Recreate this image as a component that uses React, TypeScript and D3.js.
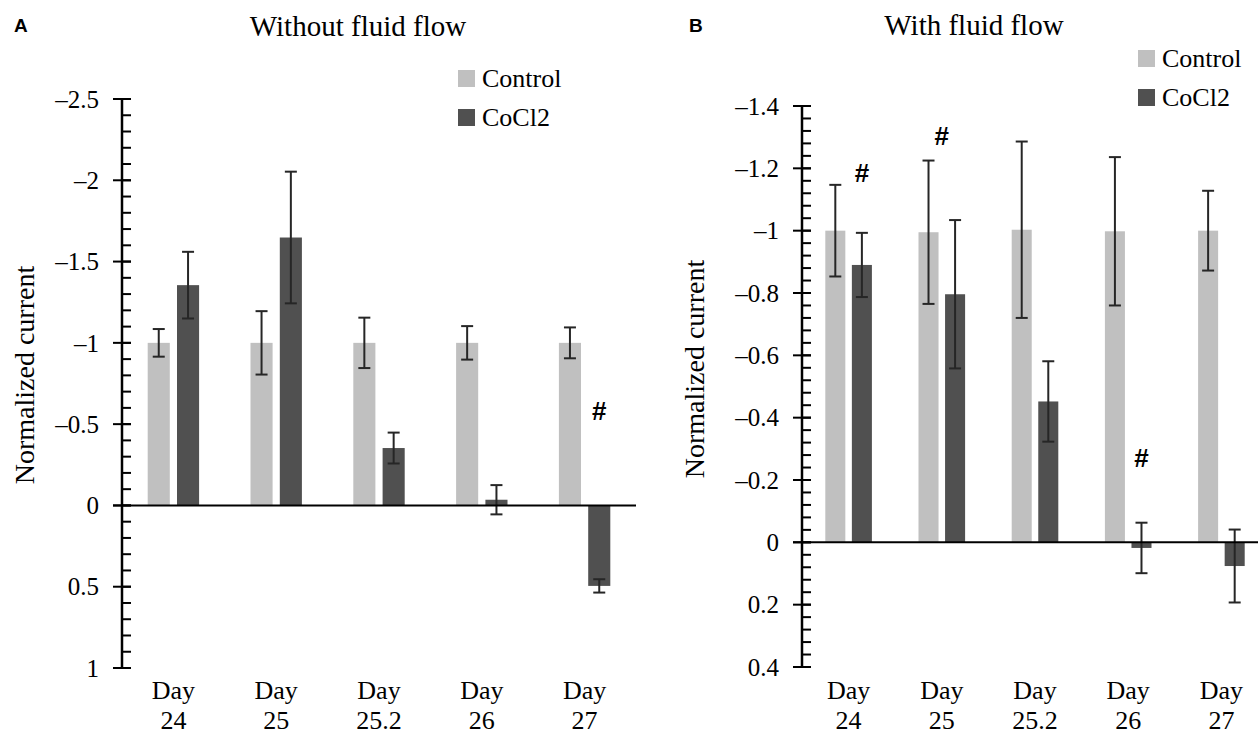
import { useEffect, useRef } from 'react';
import * as d3 from 'd3';

// categories (two-line labels: "Day" / number)
const days = ['24', '25', '25.2', '26', '27'];
const seriesNames = ['Control', 'CoCl2'];
const seriesColors = ['#c0c0c0', '#505050'];

// panel A - without fluid flow
const controlA = [-1.0, -1.0, -1.0, -1.0, -1.0];
const controlErrA = [0.085, 0.195, 0.155, 0.103, 0.095];
const cocl2A = [-1.355, -1.648, -0.353, -0.035, 0.495];
const cocl2ErrA = [0.205, 0.405, 0.095, 0.09, 0.041];
const ticksA = [-2.5, -2, -1.5, -1, -0.5, 0, 0.5, 1];

// panel B - with fluid flow
const controlB = [-1.0, -0.995, -1.003, -0.998, -1.0];
const controlErrB = [0.147, 0.23, 0.283, 0.238, 0.128];
const cocl2B = [-0.89, -0.796, -0.452, 0.018, 0.076];
const cocl2ErrB = [0.103, 0.238, 0.129, 0.081, 0.117];
const ticksB = [-1.4, -1.2, -1, -0.8, -0.6, -0.4, -0.2, 0, 0.2, 0.4];

// significance marks (#), value = baseline position in data units
const hashA = [{ day: '27', value: -0.523, at: 'CoCl2' }];
const hashB = [
  { day: '24', value: -1.157, at: 'CoCl2' },
  { day: '25', value: -1.274, at: 'group' },
  { day: '26', value: -0.241, at: 'CoCl2' },
];

const serif = '"Liberation Serif", "Times New Roman", serif';
const sans = '"Liberation Sans", Arial, sans-serif';

type Panel = {
  letter: string;
  letterX: number;
  title: string;
  titleX: number;
  titleY: number;
  xRange: [number, number];
  yDomain: [number, number];
  yRange: [number, number];
  minorStep: number;
  zeroEnd: number;
  labelX: number;
  labelY: number;
  legendX: number;
  legendY: number;
  control: number[];
  controlErr: number[];
  cocl2: number[];
  cocl2Err: number[];
  ticks: number[];
  hashes: { day: string; value: number; at: string }[];
};

const fmt = (v: number) => (v < 0 ? '\u2013' + String(Math.abs(v)) : String(v));

function drawPanel(svg: d3.Selection<SVGSVGElement, unknown, null, undefined>, p: Panel) {
  const g = svg.append('g');
  const x0 = d3.scaleBand<string>().domain(days).range(p.xRange).padding(0);
  const bw = x0.bandwidth();
  const x1 = d3.scaleBand<string>().domain(seriesNames).range([0.25 * bw, 0.75 * bw]).paddingInner(0.246);
  const y = d3.scaleLinear().domain(p.yDomain).range(p.yRange);
  const axisX = p.xRange[0];

  // bars
  const rows = days.map((d, i) => [
    { day: d, s: 'Control', v: p.control[i], e: p.controlErr[i], c: seriesColors[0] },
    { day: d, s: 'CoCl2', v: p.cocl2[i], e: p.cocl2Err[i], c: seriesColors[1] },
  ]).flat();

  g.selectAll('.bar')
    .data(rows)
    .enter()
    .append('rect')
    .attr('x', d => (x0(d.day) || 0) + (x1(d.s) || 0))
    .attr('width', x1.bandwidth())
    .attr('y', d => Math.min(y(d.v), y(0)))
    .attr('height', d => Math.abs(y(d.v) - y(0)))
    .attr('fill', d => d.c);

  // error bars
  const cap = 6;
  rows.forEach(d => {
    const cx = (x0(d.day) || 0) + (x1(d.s) || 0) + x1.bandwidth() / 2;
    const y1 = y(d.v - d.e);
    const y2 = y(d.v + d.e);
    const eg = g.append('g').attr('stroke', '#262626').attr('stroke-width', 2);
    eg.append('line').attr('x1', cx).attr('x2', cx).attr('y1', y1).attr('y2', y2);
    eg.append('line').attr('x1', cx - cap).attr('x2', cx + cap).attr('y1', y1).attr('y2', y1);
    eg.append('line').attr('x1', cx - cap).attr('x2', cx + cap).attr('y1', y2).attr('y2', y2);
  });

  // y axis
  g.append('line')
    .attr('x1', axisX).attr('x2', axisX)
    .attr('y1', y(p.yDomain[0])).attr('y2', y(p.yDomain[1]))
    .attr('stroke', '#000').attr('stroke-width', 2.5);

  const nMinor = Math.round((p.yDomain[1] - p.yDomain[0]) / p.minorStep);
  const minor = d3.range(0, nMinor + 1).map(i => p.yDomain[0] + i * p.minorStep);
  g.selectAll('.minor')
    .data(minor)
    .enter()
    .append('line')
    .attr('x1', axisX).attr('x2', axisX + 9)
    .attr('y1', d => y(d)).attr('y2', d => y(d))
    .attr('stroke', '#000').attr('stroke-width', 2);

  g.selectAll('.major')
    .data(p.ticks)
    .enter()
    .append('line')
    .attr('x1', axisX - 9).attr('x2', axisX + 9)
    .attr('y1', d => y(d)).attr('y2', d => y(d))
    .attr('stroke', '#000').attr('stroke-width', 2);

  g.selectAll('.tick-label')
    .data(p.ticks)
    .enter()
    .append('text')
    .attr('x', axisX - 23)
    .attr('y', d => y(d))
    .attr('dy', '0.35em')
    .attr('text-anchor', 'end')
    .style('font-family', serif)
    .style('font-size', '25px')
    .text(d => fmt(d));

  // zero line
  g.append('line')
    .attr('x1', axisX - 9).attr('x2', p.zeroEnd)
    .attr('y1', y(0)).attr('y2', y(0))
    .attr('stroke', '#000').attr('stroke-width', 2);

  // category labels
  const xl = g.selectAll('.xl')
    .data(days)
    .enter()
    .append('text')
    .attr('text-anchor', 'middle')
    .style('font-family', serif)
    .style('font-size', '26px');
  xl.append('tspan').attr('x', d => (x0(d) || 0) + bw / 2).attr('y', 699).text('Day');
  xl.append('tspan').attr('x', d => (x0(d) || 0) + bw / 2).attr('y', 729).text(d => d);

  // # marks
  g.selectAll('.hash')
    .data(p.hashes)
    .enter()
    .append('text')
    .attr('x', d => (x0(d.day) || 0) + (d.at === 'group' ? bw / 2 : (x1(d.at) || 0) + x1.bandwidth() / 2))
    .attr('y', d => y(d.value))
    .attr('text-anchor', 'middle')
    .style('font-family', sans)
    .style('font-weight', 'bold')
    .style('font-size', '26px')
    .text('#');

  // y label
  g.append('text')
    .attr('transform', `translate(${p.labelX},${p.labelY}) rotate(-90)`)
    .attr('text-anchor', 'middle')
    .style('font-family', serif)
    .style('font-size', '28px')
    .text('Normalized current');

  // title and panel letter
  g.append('text')
    .attr('x', p.titleX).attr('y', p.titleY)
    .attr('text-anchor', 'middle')
    .style('font-family', serif)
    .style('font-size', '29px')
    .text(p.title);

  g.append('text')
    .attr('x', p.letterX).attr('y', 32)
    .style('font-family', sans)
    .style('font-weight', 'bold')
    .style('font-size', '19px')
    .text(p.letter);

  // legend
  seriesNames.forEach((s, i) => {
    const ly = p.legendY + i * 39;
    g.append('rect')
      .attr('x', p.legendX).attr('y', ly - 17)
      .attr('width', 17).attr('height', 17)
      .attr('fill', seriesColors[i]);
    g.append('text')
      .attr('x', p.legendX + 24).attr('y', ly)
      .style('font-family', serif)
      .style('font-size', '26px')
      .text(s);
  });
}

export default function App() {
  const ref = useRef<SVGSVGElement>(null);

  useEffect(() => {
    if (!ref.current) return;
    document.body.style.margin = '0';
    const svg = d3.select(ref.current);
    svg.selectAll('*').remove();

    drawPanel(svg, {
      letter: 'A', letterX: 14,
      title: 'Without fluid flow', titleX: 358, titleY: 36,
      xRange: [122, 636], yDomain: [-2.5, 1], yRange: [99, 668],
      minorStep: 0.1, zeroEnd: 636,
      labelX: 34, labelY: 375,
      legendX: 458, legendY: 87,
      control: controlA, controlErr: controlErrA,
      cocl2: cocl2A, cocl2Err: cocl2ErrA,
      ticks: ticksA, hashes: hashA,
    });

    drawPanel(svg, {
      letter: 'B', letterX: 689,
      title: 'With fluid flow', titleX: 974, titleY: 35,
      xRange: [802, 1268], yDomain: [-1.4, 0.4], yRange: [106, 667],
      minorStep: 0.04, zeroEnd: 1258,
      labelX: 704, labelY: 369,
      legendX: 1138, legendY: 67,
      control: controlB, controlErr: controlErrB,
      cocl2: cocl2B, cocl2Err: cocl2ErrB,
      ticks: ticksB, hashes: hashB,
    });
  }, []);

  return (
    <svg
      ref={ref}
      width={1258}
      height={738}
      style={{ position: 'absolute', left: 0, top: 0, background: '#fff' }}
    />
  );
}
